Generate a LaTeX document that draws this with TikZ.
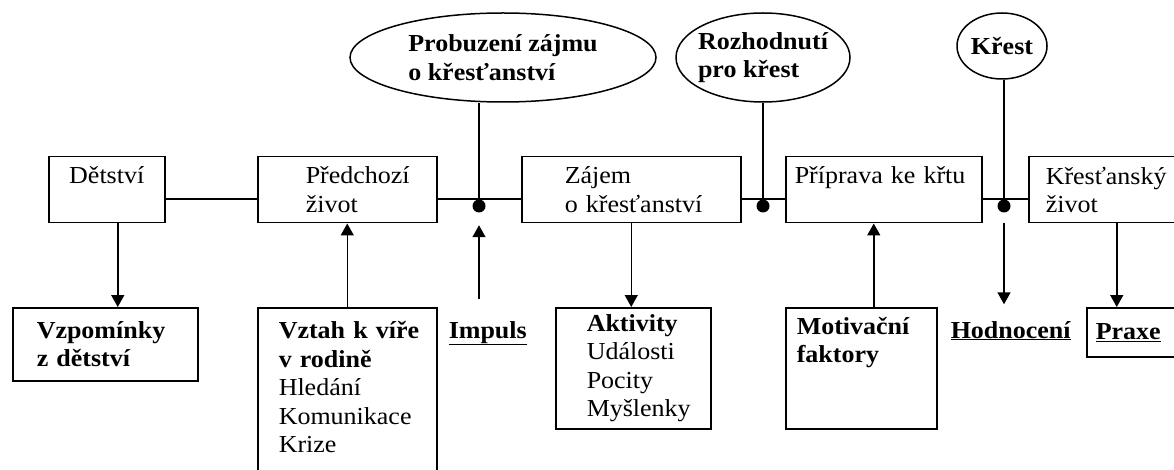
\documentclass[tikz,border=0pt]{standalone}
\usepackage{fontspec}
\setmainfont{Liberation Serif}[FakeStretch=1.065]
\usepackage{tikz}
\usetikzlibrary{arrows.meta,shapes,positioning}
\newcommand{\diagfont}{\fontsize{24.4}{28.5}\selectfont}
\tikzstyle{stage} = [rectangle, draw, anchor=north west, align=left, inner xsep=0pt, inner ysep=0pt]
\tikzstyle{event} = [ellipse, draw, align=left, inner sep=0pt, font=\diagfont\bfseries]
\tikzstyle{junction} = [circle, fill, inner sep=0pt, minimum size=13pt]
\tikzstyle{arrow} = [-{Triangle[length=12pt,width=13pt]}]
\tikzset{textindent/.style={execute at begin node={\leftskip=#1\relax}}}

\begin{document}
\begin{tikzpicture}[x=1pt, y=-1pt, line width=1.5pt, font=\diagfont]
\useasboundingbox (0,0) rectangle (1174,470);
\clip (0,0) rectangle (1174,470);

% Stages of life
\node (detstvi) [stage, text width=116pt, minimum height=66pt, align=center] at (48,156) {Dětství\\\mbox{}};
\node (predchozi) [stage, text width=179pt, minimum height=66pt, textindent=48pt] at (257,156) {Předchozí\\život};
\node (zajem) [stage, text width=219pt, minimum height=66pt, textindent=43pt] at (521,156) {Zájem\\o křesťanství};
\node (priprava) [stage, text width=196pt, minimum height=66pt, textindent=9pt] at (785,156) {Příprava ke křtu\\\mbox{}};
\node (krzivot) [stage, text width=176pt, minimum height=66pt, textindent=17pt] at (1028,156) {Křesťanský\\život};

% Turning points
\node (probuzeni) [event, minimum width=306pt, minimum height=89pt] at (503,57.5) {Probuzení zájmu\\o křesťanství};
\node (rozhodnuti) [event, minimum width=174pt, minimum height=89pt, inner xsep=-4pt] at (763,57.5) {Rozhodnutí\\pro křest};
\node (krest) [event, minimum width=90pt, minimum height=66pt] at (1002,46) {Křest};

\coordinate (axis) at (0,199);
\node (dot1) [junction] at (479,206) {};
\node (dot2) [junction] at (763,206) {};
\node (dot3) [junction] at (1004,206) {};

% Influences and outcomes
\node (vzpom) [stage, text width=185pt, minimum height=73pt, textindent=24pt, font=\diagfont\bfseries] at (12,307) {Vzpomínky\\z dětství};
\node (vztah) [stage, text width=179pt, inner ysep=14pt, textindent=21pt] at (257,307) {\textbf{Vztah k víře}\\\textbf{v rodině}\\Hledání\\Komunikace\\Krize\\\mbox{}\\\mbox{}};
\node (impuls) [anchor=base west, inner sep=0pt] at (448,338) {\underline{\textbf{Impuls}}};
\node (aktivity) [stage, text width=155pt, minimum height=121pt, textindent=31pt] at (555,307) {\textbf{Aktivity}\\Události\\Pocity\\Myšlenky};
\node (motivacni) [stage, text width=151pt, minimum height=121pt, textindent=11pt, font=\diagfont\bfseries] at (785,307) {Motivační\\faktory\\\mbox{}\\\mbox{}};
\node (hodnoceni) [anchor=base west, inner sep=0pt] at (950,338) {\underline{\textbf{Hodnocení}}};
\node (praxe) [stage, text width=120pt, minimum height=49pt, textindent=9pt] at (1086,307) {\underline{\textbf{Praxe}}};

% Time line
\draw (detstvi.east |- axis) -- (predchozi.west |- axis);
\draw (predchozi.east |- axis) -- (zajem.west |- axis);
\draw (zajem.east |- axis) -- (priprava.west |- axis);
\draw (priprava.east |- axis) -- (krzivot.west |- axis);
\draw (dot1 |- probuzeni.south) -- (dot1.center);
\draw (rozhodnuti) -- (dot2.center);
\draw (dot3 |- krest.south) -- (dot3.center);

% Arrows
\draw[arrow] ([xshift=11pt]detstvi.south) -- ([xshift=11pt]detstvi.south |- vzpom.north);
\draw[arrow] (vztah.north) -- (predchozi.south);
\draw[arrow, shorten <=21.5pt, shorten >=12pt] (impuls.north -| dot1) -- (dot1);
\draw[arrow] (zajem.south) -- (zajem.south |- aktivity.north);
\draw[arrow] ([xshift=12.5pt]motivacni.north) -- ([xshift=12.5pt]motivacni.north |- priprava.south);
\draw[arrow, shorten <=10pt, shorten >=16pt] (dot3) -- (dot3 |- hodnoceni.north);
\draw[arrow] (krzivot.south) -- (krzivot.south |- praxe.north);
\end{tikzpicture}
\end{document}
